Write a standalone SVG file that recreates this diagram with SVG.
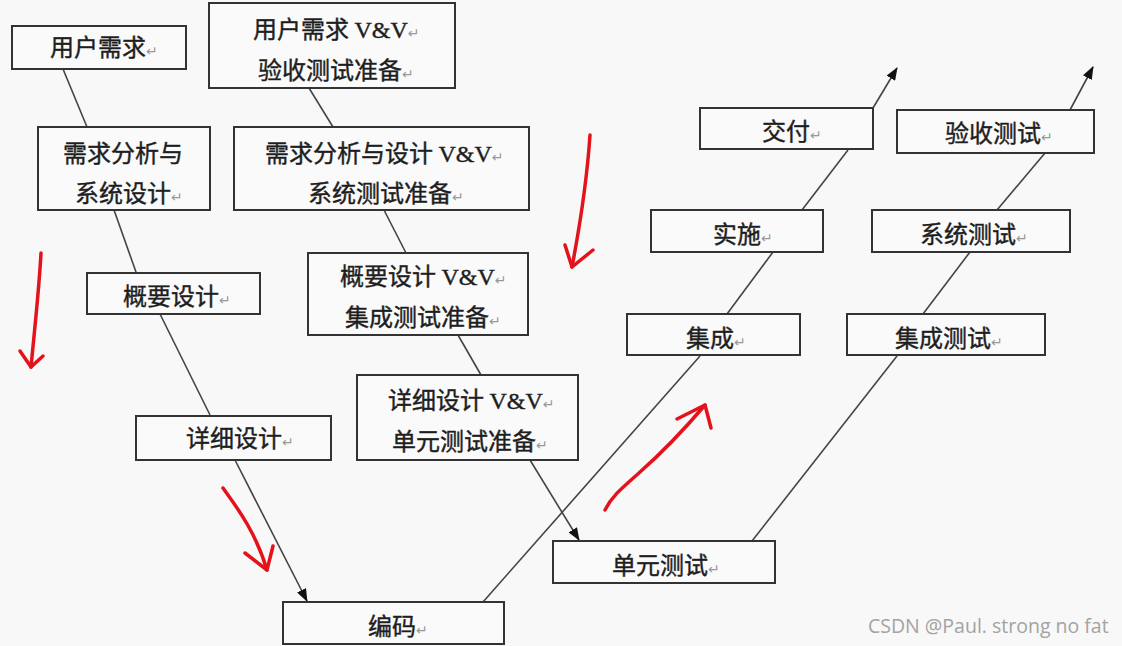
<svg xmlns="http://www.w3.org/2000/svg" width="1122" height="646" viewBox="0 0 1122 646">
  <defs>
    <marker id="ah" markerUnits="userSpaceOnUse" markerWidth="13" markerHeight="10" refX="12" refY="5" orient="auto">
      <path d="M0,0 L13,5 L0,10 z" fill="#111"/>
    </marker>
    <style>
      .box { fill: #fafafa; stroke: #333; stroke-width: 2; }
      .t { font-family: "Noto Sans CJK SC", "Noto Sans", sans-serif; font-size: 24px; fill: #1e1e1e; stroke: #1e1e1e; stroke-width: 0.4; }
      .vv { font-family: "Liberation Serif", serif; font-size: 24px; }
      .ret { font-family: "DejaVu Sans", sans-serif; font-size: 14px; fill: #999; stroke: none; }
      .ln { stroke: #444; stroke-width: 1.6; fill: none; }
      .red { stroke: #e3131b; stroke-width: 3.5; fill: none; stroke-linecap: round; stroke-linejoin: round; }
      .wm { font-family: "Open Sans", "Noto Sans", sans-serif; font-size: 19.5px; fill: #a3a3a3; }
    </style>
  </defs>
  <rect width="1122" height="646" fill="#f8f8f8"/>

  <g id="connectors">
    <line class="ln" x1="63" y1="69" x2="87" y2="127"/>
    <line class="ln" x1="114" y1="210" x2="136" y2="272"/>
    <line class="ln" x1="160" y1="314" x2="210" y2="415"/>
    <line class="ln" x1="235" y1="460" x2="307" y2="601" marker-end="url(#ah)"/>
    <line class="ln" x1="309" y1="88" x2="333" y2="127"/>
    <line class="ln" x1="384" y1="210" x2="406" y2="253"/>
    <line class="ln" x1="458" y1="335" x2="481" y2="375"/>
    <line class="ln" x1="530" y1="460" x2="579" y2="540" marker-end="url(#ah)"/>
    <line class="ln" x1="483" y1="602" x2="700" y2="356"/>
    <line class="ln" x1="727" y1="314" x2="773" y2="252"/>
    <line class="ln" x1="802" y1="210" x2="848" y2="150"/>
    <line class="ln" x1="873" y1="108" x2="897" y2="68" marker-end="url(#ah)"/>
    <line class="ln" x1="752" y1="541" x2="897" y2="356"/>
    <line class="ln" x1="923" y1="314" x2="970" y2="252"/>
    <line class="ln" x1="997" y1="210" x2="1045" y2="153"/>
    <line class="ln" x1="1070" y1="110" x2="1093" y2="67" marker-end="url(#ah)"/>
  </g>

  <g id="n-yhxq">
    <rect class="box" x="12" y="26" width="174" height="43"/>
    <text class="t" x="50" y="56">用户需求<tspan class="ret">↵</tspan></text>
  </g>
  <g id="n-yhxq-vv">
    <rect class="box" x="209" y="3" width="246" height="85"/>
    <text class="t" x="253" y="38">用户需求 <tspan class="vv">V&amp;V</tspan><tspan class="ret">↵</tspan></text>
    <text class="t" x="258" y="79">验收测试准备<tspan class="ret">↵</tspan></text>
  </g>
  <g id="n-xqfx">
    <rect class="box" x="38" y="127" width="172" height="83"/>
    <text class="t" x="63" y="162">需求分析与</text>
    <text class="t" x="75" y="202">系统设计<tspan class="ret">↵</tspan></text>
  </g>
  <g id="n-xqfx-vv">
    <rect class="box" x="234" y="127" width="295" height="83"/>
    <text class="t" x="265" y="162">需求分析与设计 <tspan class="vv">V&amp;V</tspan><tspan class="ret">↵</tspan></text>
    <text class="t" x="308" y="202">系统测试准备<tspan class="ret">↵</tspan></text>
  </g>
  <g id="n-gysj">
    <rect class="box" x="87" y="273" width="173" height="41"/>
    <text class="t" x="123" y="305">概要设计<tspan class="ret">↵</tspan></text>
  </g>
  <g id="n-gysj-vv">
    <rect class="box" x="308" y="253" width="220" height="82"/>
    <text class="t" x="340" y="285">概要设计 <tspan class="vv">V&amp;V</tspan><tspan class="ret">↵</tspan></text>
    <text class="t" x="345" y="326">集成测试准备<tspan class="ret">↵</tspan></text>
  </g>
  <g id="n-xxsj">
    <rect class="box" x="136" y="416" width="195" height="44"/>
    <text class="t" x="186" y="447">详细设计<tspan class="ret">↵</tspan></text>
  </g>
  <g id="n-xxsj-vv">
    <rect class="box" x="357" y="375" width="221" height="85"/>
    <text class="t" x="388" y="409">详细设计 <tspan class="vv">V&amp;V</tspan><tspan class="ret">↵</tspan></text>
    <text class="t" x="392" y="450">单元测试准备<tspan class="ret">↵</tspan></text>
  </g>
  <g id="n-bm">
    <rect class="box" x="283" y="602" width="221" height="42"/>
    <text class="t" x="368" y="635">编码<tspan class="ret">↵</tspan></text>
  </g>
  <g id="n-dycs">
    <rect class="box" x="553" y="541" width="222" height="42"/>
    <text class="t" x="612" y="574">单元测试<tspan class="ret">↵</tspan></text>
  </g>
  <g id="n-jc">
    <rect class="box" x="627" y="314" width="173" height="41"/>
    <text class="t" x="686" y="347">集成<tspan class="ret">↵</tspan></text>
  </g>
  <g id="n-jccs">
    <rect class="box" x="847" y="314" width="198" height="41"/>
    <text class="t" x="895" y="347">集成测试<tspan class="ret">↵</tspan></text>
  </g>
  <g id="n-ss">
    <rect class="box" x="651" y="210" width="172" height="42"/>
    <text class="t" x="713" y="243">实施<tspan class="ret">↵</tspan></text>
  </g>
  <g id="n-xtcs">
    <rect class="box" x="872" y="210" width="198" height="42"/>
    <text class="t" x="920" y="243">系统测试<tspan class="ret">↵</tspan></text>
  </g>
  <g id="n-jf">
    <rect class="box" x="700" y="108" width="173" height="41"/>
    <text class="t" x="762" y="140">交付<tspan class="ret">↵</tspan></text>
  </g>
  <g id="n-yscs">
    <rect class="box" x="897" y="110" width="197" height="43"/>
    <text class="t" x="945" y="142">验收测试<tspan class="ret">↵</tspan></text>
  </g>

  <g id="red-marks">
    <path class="red" d="M41,253 C39,290 35,325 31,367"/>
    <path class="red" d="M20,351 L31,367 L43,356"/>
    <path class="red" d="M590,135 C587,180 580,225 572,267"/>
    <path class="red" d="M565,245 L572,267 L593,250"/>
    <path class="red" d="M223,488 C235,505 255,530 267,570"/>
    <path class="red" d="M245,553 L267,570 L273,546"/>
    <path class="red" d="M605,510 C612,496 622,488 640,472 C665,450 688,425 705,405"/>
    <path class="red" d="M677,419 L705,405 L711,428"/>
  </g>

  <text class="wm" x="868" y="633">CSDN @Paul. strong no fat</text>
</svg>
